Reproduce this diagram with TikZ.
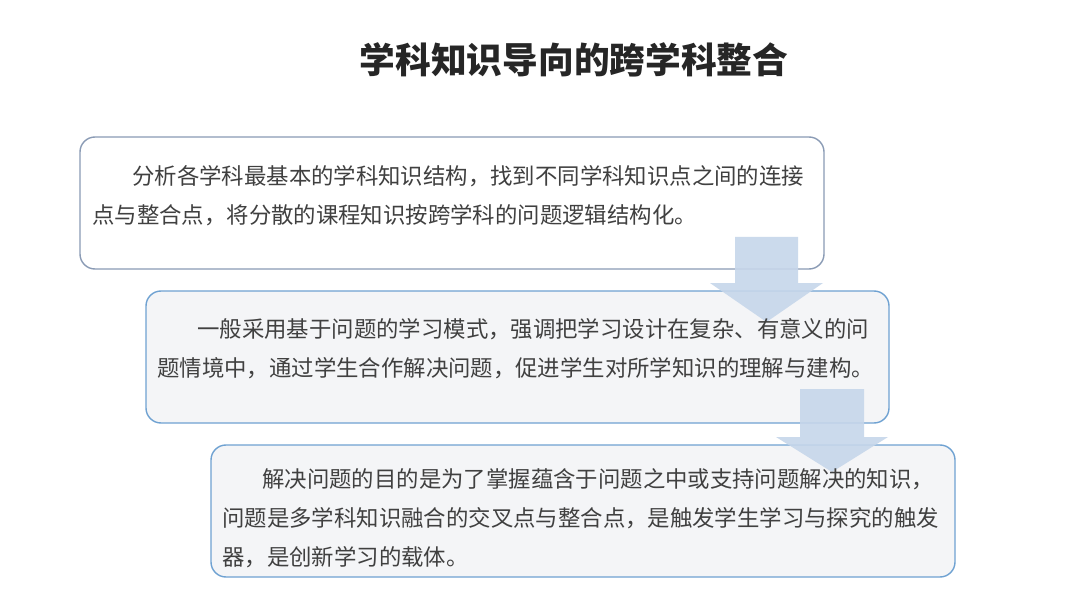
\documentclass[tikz,border=0pt]{standalone}
\usepackage{fontspec}
\setmainfont{Noto Sans CJK SC}
\newfontfamily\cjk{Noto Sans CJK SC}
\definecolor{txtgrey}{HTML}{404040}
\definecolor{titleblk}{HTML}{262626}
\definecolor{borderA}{HTML}{8A9BB5}
\definecolor{borderB}{HTML}{6FA2D2}
\definecolor{fillB}{HTML}{F4F5F7}
\definecolor{arrowfill}{HTML}{C6D6EA}
\tikzset{
  panel/.style={draw=borderB, line width=1.4pt, rounded corners=15pt, fill=fillB, inner sep=0pt},
  panelA/.style={panel, draw=borderA, fill=white},
  bodytext/.style={anchor=north west, inner sep=0pt, align=left, text=txtgrey,
    font=\cjk\fontsize{22.4}{39}\selectfont},
  bigarrow/.style={fill=arrowfill, draw=none, fill opacity=0.9},
}
\begin{document}
\begin{tikzpicture}[x=1pt,y=-1pt]
\useasboundingbox (0,0) rectangle (1080,607);
\fill[white] (0,0) rectangle (1080,607);
% title
\node[text=titleblk, font=\cjk\bfseries\fontsize{35.7}{40}\selectfont, inner sep=0pt] (title) at (574,60) {学科知识导向的跨学科整合};
% boxes
\path[panelA] (80,137) rectangle (824,269);
\node[minimum width=744pt, minimum height=132pt, inner sep=0pt] (box1) at (452,203) {};
\path[panel] (146,291) rectangle (889,423);
\node[minimum width=743pt, minimum height=132pt, inner sep=0pt] (box2) at (517.5,357) {};
% arrow 1
\path[bigarrow] (735,237) -- (798,237) -- (798,283) -- (823,283) -- (766.5,322) -- (710,283) -- (735,283) -- cycle;
\coordinate (a1) at (766.5,322);
% box 2 text
\node[bodytext] (t2) at (157,318) {\hspace*{40pt}一般采用基于问题的学习模式，强调把学习设计在复杂、有意义的问\\题情境中，通过学生合作解决问题，促进学生对所学知识的理解与建构。};
\path[panel] (211,445) rectangle (955,577);
\node[minimum width=744pt, minimum height=132pt, inner sep=0pt] (box3) at (583,511) {};
% arrow 2
\path[bigarrow] (800,389) -- (864,389) -- (864,437) -- (888,437) -- (832,472) -- (776,437) -- (800,437) -- cycle;
\coordinate (a2) at (832,472);
% text box 1 and 3
\node[bodytext] (t1) at (92,165) {\hspace*{40pt}分析各学科最基本的学科知识结构，找到不同学科知识点之间的连接\\点与整合点，将分散的课程知识按跨学科的问题逻辑结构化。};
\node[bodytext] (t3) at (222,468) {\hspace*{40pt}解决问题的目的是为了掌握蕴含于问题之中或支持问题解决的知识，\\问题是多学科知识融合的交叉点与整合点，是触发学生学习与探究的触发\\器，是创新学习的载体。};
\end{tikzpicture}
\end{document}
